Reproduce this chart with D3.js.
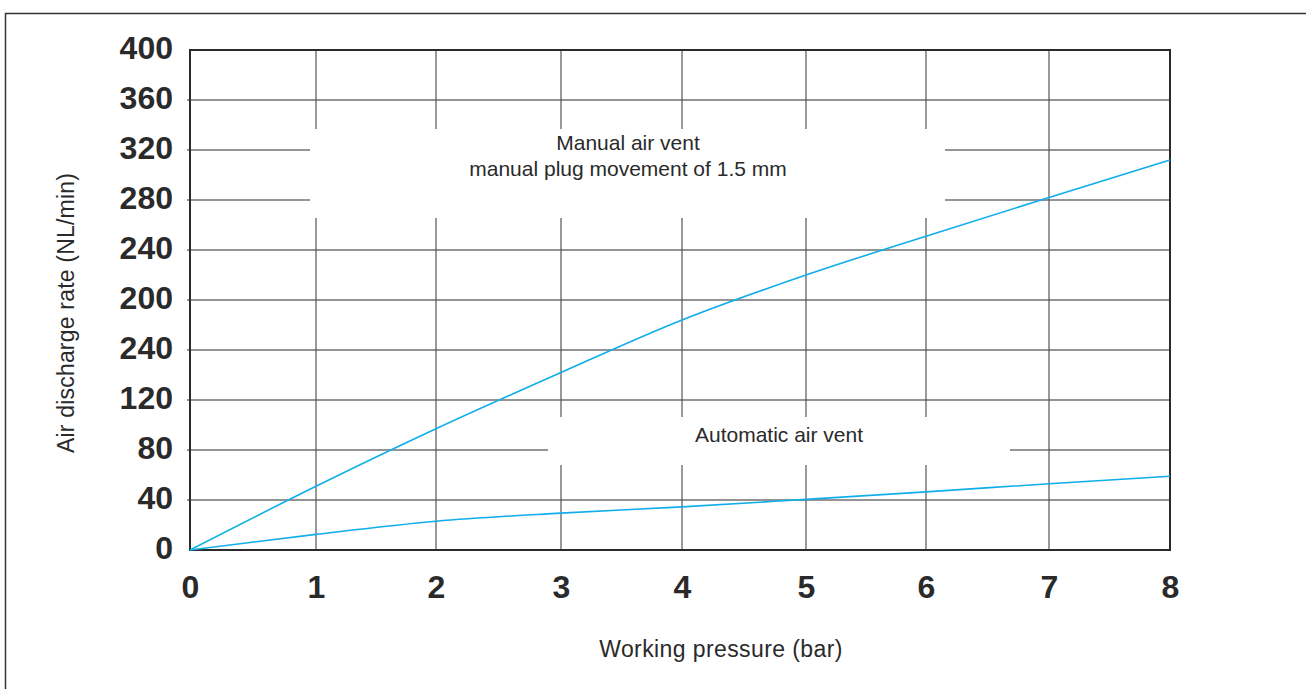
<!DOCTYPE html>
<html>
<head>
<meta charset="utf-8">
<script src="https://cdn.jsdelivr.net/npm/d3@7"></script>
<style>
  html, body { margin: 0; padding: 0; background: #fff; }
  svg { display: block; }
</style>
</head>
<body>
<svg id="chart" width="1306" height="689"></svg>
<script>
// ---- data ----
const pressure = [0, 1, 2, 3, 4, 5, 6, 7, 8];
const manualVent = [0, 51, 97, 142, 184, 220, 251, 282, 312];
const automaticVent = [0, 12.5, 23, 29.5, 34.5, 40.5, 46.5, 53, 59];
const yTickValues = [0, 40, 80, 120, 160, 200, 240, 280, 320, 360, 400];
const yTickLabels = ["0", "40", "80", "120", "240", "200", "240", "280", "320", "360", "400"];
const xTickValues = [0, 1, 2, 3, 4, 5, 6, 7, 8];
const manualLabel = ["Manual air vent", "manual plug movement of 1.5 mm"];
const automaticLabel = ["Automatic air vent"];
const xTitle = "Working pressure (bar)";
const yTitle = "Air discharge rate (NL/min)";

// ---- layout ----
const svg = d3.select("#chart");
const pLeft = 190, pRight = 1170, pTop = 50, pBottom = 550;
// the printed grid is slightly uneven; a piecewise-linear scale follows it
const xPixels = [190, 316, 436, 561, 682, 806, 926, 1049, 1170];
const x = d3.scaleLinear().domain(xTickValues).range(xPixels);
const y = d3.scaleLinear().domain([0, 400]).range([pBottom, pTop]);
const gridColor = "#2b2b2b";
const textColor = "#2a2a2a";
const lineColor = "#0faeea";
const font = "'Liberation Sans', Arial, Helvetica, sans-serif";

// outer frame
svg.append("path")
  .attr("d", "M5.5,689 L5.5,13.5 L1306,13.5")
  .attr("fill", "none").attr("stroke", "#333").attr("stroke-width", 1.5);

// grid
const grid = svg.append("g");
grid.selectAll("line.h").data(yTickValues.slice(1, -1)).join("line")
  .attr("class", "h")
  .attr("x1", pLeft - 3).attr("x2", pRight)
  .attr("y1", d => y(d)).attr("y2", d => y(d))
  .attr("stroke", gridColor).attr("stroke-width", 1.2);
grid.selectAll("line.v").data(xTickValues.slice(1, -1)).join("line")
  .attr("class", "v")
  .attr("x1", d => x(d)).attr("x2", d => x(d))
  .attr("y1", pTop).attr("y2", pBottom)
  .attr("stroke", "#555").attr("stroke-width", 1.2);

// white label backgrounds that cut the grid
svg.append("rect").attr("x", 310).attr("y", 129).attr("width", 635).attr("height", 89).attr("fill", "#fff");
svg.append("rect").attr("x", 548).attr("y", 417).attr("width", 462).attr("height", 48).attr("fill", "#fff");

// plot border
svg.append("rect")
  .attr("x", pLeft).attr("y", pTop).attr("width", pRight - pLeft).attr("height", pBottom - pTop)
  .attr("fill", "none").attr("stroke", gridColor).attr("stroke-width", 2);

// curves
const line = d3.line().x((d, i) => x(pressure[i])).y(d => y(d)).curve(d3.curveMonotoneX);
[manualVent, automaticVent].forEach(series => {
  svg.append("path").datum(series)
    .attr("d", line)
    .attr("fill", "none").attr("stroke", lineColor).attr("stroke-width", 1.6);
});

// y axis tick labels
const yAxis = d3.axisLeft(y).tickValues(yTickValues)
  .tickFormat((d, i) => yTickLabels[i]).tickSize(0).tickPadding(17);
const gy = svg.append("g").attr("transform", `translate(${pLeft},0)`).call(yAxis);
gy.select(".domain").remove();
gy.selectAll("text")
  .attr("dy", "0.27em")
  .attr("font-family", font)
  .attr("font-size", 32).attr("font-weight", "bold").attr("fill", textColor);

// x axis tick labels
const xAxis = d3.axisBottom(x).tickValues(xTickValues).tickFormat(d3.format("d")).tickSize(0).tickPadding(25);
const gx = svg.append("g").attr("transform", `translate(0,${pBottom})`).call(xAxis);
gx.select(".domain").remove();
gx.selectAll("text")
  .attr("font-family", font)
  .attr("font-size", 32).attr("font-weight", "bold").attr("fill", textColor);

// axis titles
svg.append("text").attr("x", 721).attr("y", 657).attr("text-anchor", "middle")
  .attr("font-family", font).attr("font-size", 23).attr("letter-spacing", 0.4)
  .attr("fill", textColor).text(xTitle);
svg.append("text").attr("transform", "translate(74,313) rotate(-90)").attr("text-anchor", "middle")
  .attr("font-family", font).attr("font-size", 23).attr("letter-spacing", 0.2)
  .attr("fill", textColor).text(yTitle);

// series labels
manualLabel.forEach((t, i) => {
  svg.append("text").attr("x", 628).attr("y", 150 + i * 26).attr("text-anchor", "middle")
    .attr("font-family", font).attr("font-size", 21).attr("fill", textColor).text(t);
});
automaticLabel.forEach((t, i) => {
  svg.append("text").attr("x", 779).attr("y", 442 + i * 26).attr("text-anchor", "middle")
    .attr("font-family", font).attr("font-size", 21).attr("fill", textColor).text(t);
});
</script>
</body>
</html>
